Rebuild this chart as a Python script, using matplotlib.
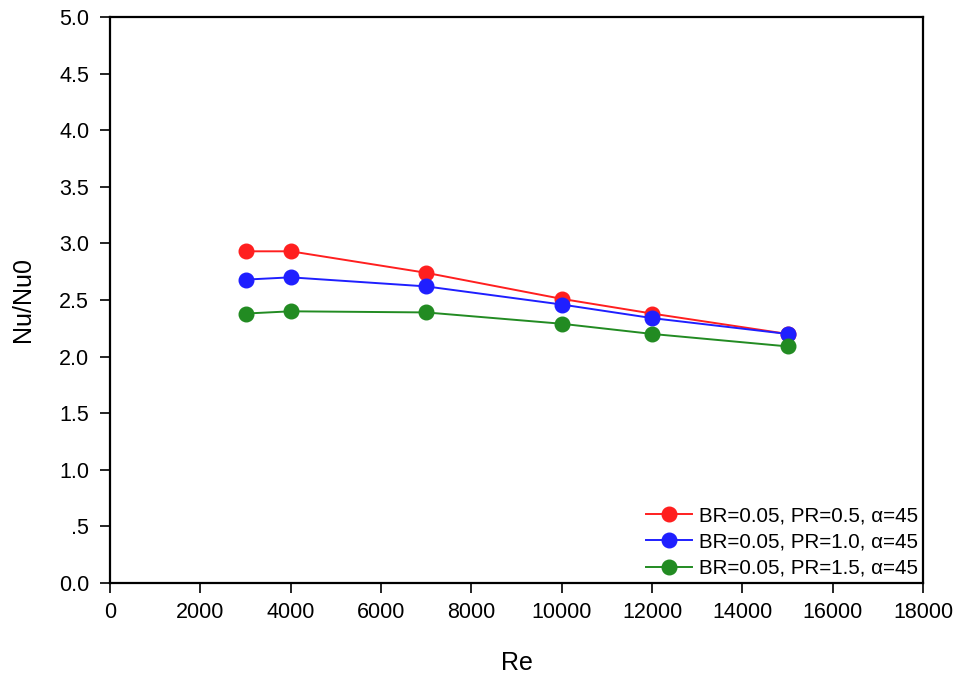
import matplotlib
matplotlib.use("Agg")
import matplotlib.pyplot as plt

re_vals = [3000, 4000, 7000, 10000, 12000, 15000]
nu_pr05 = [2.93, 2.93, 2.74, 2.51, 2.38, 2.20]
nu_pr10 = [2.68, 2.70, 2.62, 2.46, 2.34, 2.20]
nu_pr15 = [2.38, 2.40, 2.39, 2.29, 2.20, 2.09]
labels = ["BR=0.05, PR=0.5, α=45", "BR=0.05, PR=1.0, α=45", "BR=0.05, PR=1.5, α=45"]
colors = ["#ff1f1f", "#1f1fff", "#228b22"]

plt.rcParams["font.family"] = ["Liberation Sans", "DejaVu Sans"]

fig = plt.figure(figsize=(9.61, 6.79), dpi=100)
ax = fig.add_axes([0.1145, 0.1414, 0.846, 0.8336])

for ys, c, lab in zip([nu_pr05, nu_pr10, nu_pr15], colors, labels):
    ax.plot(re_vals, ys, color=c, lw=1.4, marker="o", ms=10.5, mfc=c, mec=c, label=lab)

ax.set_xlim(0, 18000)
ax.set_ylim(0, 5)
ax.set_xticks(range(0, 18001, 2000))
yt = [i * 0.5 for i in range(11)]
ax.set_yticks(yt)
ax.set_yticklabels([".5" if v == 0.5 else f"{v:.1f}" for v in yt])
ax.tick_params(direction="out", length=7, width=1.2, labelsize=15.5)
ax.tick_params(axis="x", pad=7)
ax.tick_params(axis="y", pad=8)

for s in ax.spines.values():
    s.set_linewidth(1.6)

ax.set_xlabel("Re", fontsize=18, labelpad=20)
ax.set_ylabel("Nu/Nu0", fontsize=18, labelpad=17)

ax.legend(loc="lower right", frameon=False, fontsize=14.8, handlelength=2.2,
          handletextpad=0.35, labelspacing=0.35, borderaxespad=0.15,
          borderpad=0.1)

fig.savefig("out.png", dpi=100)
